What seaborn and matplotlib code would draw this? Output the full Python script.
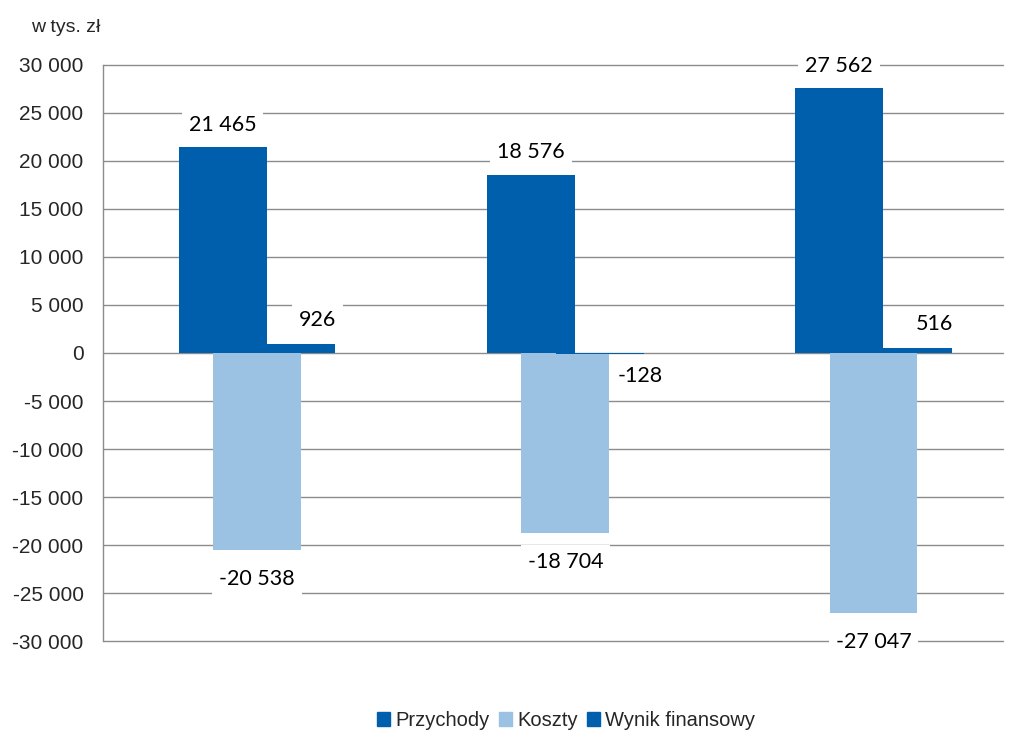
import matplotlib as mpl
mpl.use("Agg")
import matplotlib.pyplot as plt
import pandas as pd
import seaborn as sns

groups = ["A", "B", "C"]
series = ["Przychody", "Koszty", "Wynik finansowy"]
przychody = [21465, 18576, 27562]
koszty = [-20538, -18704, -27047]
wynik = [926, -128, 516]
yticks = list(range(-30000, 30001, 5000))

colors = {"Przychody": "#005FAD", "Koszty": "#9BC2E2", "Wynik finansowy": "#005FAD"}


def fmt(v):
    s = f"{abs(v):,}".replace(",", " ")
    return "-" + s if v < 0 else s


df = pd.DataFrame({
    "grupa": groups * 3,
    "seria": [s for s in series for _ in groups],
    "wartosc": przychody + koszty + wynik,
})

sns.set_style("white")
plt.rcParams["font.family"] = ["Liberation Sans", "DejaVu Sans"]

fig = plt.figure(figsize=(10.18, 7.31), dpi=100)
ax = fig.add_axes([0.1012, 0.1231, 0.8841, 0.788])

sns.barplot(data=df, x="grupa", y="wartosc", hue="seria", hue_order=series,
            palette=colors, width=0.335, gap=-1.55, dodge=True,
            saturation=1, errorbar=None, legend=True, ax=ax, zorder=3,
            linewidth=0)

ax.set_xlim(-0.5, 2.42)
ax.set_ylim(-30000, 30000)
ax.set_yticks(yticks)
ax.set_yticklabels([fmt(t) for t in yticks])
ax.tick_params(axis="y", length=0, pad=14, labelsize=15)
ax.set_xticks([])
ax.set_xlabel("")
ax.set_ylabel("")
ax.grid(False)
for t in yticks:
    ax.axhline(t, color="#8C8C8C", linewidth=1.0, zorder=0, clip_on=False)
for side in ["top", "right", "bottom"]:
    ax.spines[side].set_visible(False)
ax.spines["left"].set_color("#8C8C8C")
ax.spines["left"].set_linewidth(1.0)

lab_font = dict(family=["Lato", "DejaVu Sans"], fontsize=15.5, color="#000000")
box = dict(facecolor="white", edgecolor="none", pad=5)
for cont, name in zip(ax.containers, series):
    for bar in cont:
        v = bar.get_height()
        xc = bar.get_x() + bar.get_width() / 2
        dy = 16 if v >= 0 else -21
        dx = 0
        if name == "Wynik finansowy":
            dx = 19 if v >= 0 else 29
            dy = 17 if v >= 0 else -16
        ax.annotate(fmt(int(round(v))), (xc, v), xytext=(dx, dy),
                    textcoords="offset points", ha="center", va="center",
                    bbox=box, zorder=5, **lab_font)

fig.text(0.03, 0.962, "w tys. zł", fontsize=14, ha="left", va="center")

ax.legend_.remove()
handles = [mpl.patches.Patch(color=colors[s]) for s in series]
fig.legend(handles, series, loc="center", bbox_to_anchor=(0.556, 0.014),
           ncol=3, frameon=False, fontsize=14.5, handlelength=0.65,
           handleheight=0.65, handletextpad=0.25, columnspacing=0.45)

fig.savefig("out.png", dpi=100)
